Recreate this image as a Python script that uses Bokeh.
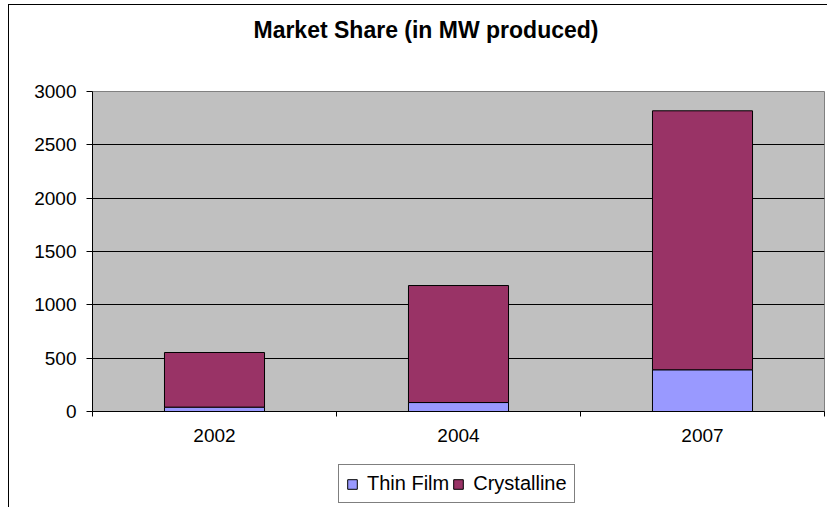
from bokeh.plotting import figure
from bokeh.layouts import column
from bokeh.models import (Range1d, LinearAxis, FixedTicker, Legend,
                          LegendItem, Grid, ColumnDataSource, Div)
from bokeh.embed import file_html
from bokeh.resources import INLINE

# ---- data ----
years = ["2002", "2004", "2007"]
series = ["Thin Film", "Crystalline"]
thin_film = [41, 84, 391]
crystalline = [512, 1097, 2428]
colors = ["#9999FF", "#993366"]
y_ticks = [0, 500, 1000, 1500, 2000, 2500, 3000]
title_text = "Market Share (in MW produced)"

FONT = "Liberation Sans"
W = 818

# each year gets one slot of width 1 on the x scale
slot_centres = [i + 0.5 for i in range(len(years))]
slot_edges = list(range(len(years) + 1))

data = {"x": slot_centres}
for name, vals in zip(series, [thin_film, crystalline]):
    data[name] = vals
src = ColumnDataSource(data)

# ---- title ----
title_div = Div(text=title_text, width=W, height=74, margin=0,
                stylesheets=[":host{font-family:'Liberation Sans';font-size:23px;"
                             "font-weight:bold;color:black;}"
                             " div{box-sizing:border-box;width:100%;text-align:center;"
                             "padding-left:16px;padding-top:9px;}"])

# ---- main chart ----
p = figure(x_range=Range1d(0, len(years)),
           y_range=Range1d(y_ticks[0], y_ticks[-1]),
           width=W, height=381, output_backend="svg", toolbar_location=None,
           x_axis_location=None, y_axis_location=None, title=None,
           min_border_left=83, min_border_top=12, min_border_right=3,
           min_border_bottom=49)
p.background_fill_color = "#C0C0C0"
p.border_fill_color = "white"
p.outline_line_color = "#808080"
p.outline_line_width = 1
p.grid.visible = False

yax = LinearAxis(ticker=FixedTicker(ticks=y_ticks), major_tick_out=6, major_tick_in=0,
                 minor_tick_out=0, minor_tick_in=0, major_label_standoff=10,
                 axis_line_color="black", major_tick_line_color="black",
                 major_label_text_font=FONT, major_label_text_font_size="19px",
                 major_label_text_color="black")
p.add_layout(yax, "left")
p.add_layout(Grid(dimension=1, ticker=FixedTicker(ticks=y_ticks[1:-1]),
                  grid_line_color="black", grid_line_width=1))

xax = LinearAxis(ticker=FixedTicker(ticks=slot_centres, minor_ticks=slot_edges),
                 major_label_overrides={c: y for c, y in zip(slot_centres, years)},
                 major_tick_out=0, major_tick_in=0, minor_tick_out=5, minor_tick_in=0,
                 major_label_standoff=12, axis_line_color="black",
                 minor_tick_line_color="black",
                 major_label_text_font=FONT, major_label_text_font_size="19px",
                 major_label_text_color="black")
p.add_layout(xax, "below")

p.vbar_stack(series, x="x", width=0.41, source=src,
             fill_color=colors, line_color="black", line_width=1)

# ---- legend strip (its renderers are hidden; only the legend is drawn) ----
pl = figure(x_range=p.x_range, y_range=p.y_range,
            width=W, height=47, output_backend="svg", toolbar_location=None,
            x_axis_location=None, y_axis_location=None, title=None,
            min_border_left=83, min_border_top=0, min_border_right=3,
            min_border_bottom=0)
pl.background_fill_color = "white"
pl.border_fill_color = "white"
pl.outline_line_color = None
pl.grid.visible = False
rs = pl.vbar_stack(series, x="x", width=0.41, source=src,
                   fill_color=colors, line_color="black", line_width=1)
for r in rs:
    r.visible = False
legend = Legend(items=[LegendItem(label=s, renderers=[r]) for s, r in zip(series, rs)],
                orientation="horizontal", location=(246, 4),
                glyph_width=12, glyph_height=12, label_standoff=9, spacing=3,
                padding=7, margin=0, border_line_color="black", border_line_width=1,
                label_text_font=FONT, label_text_font_size="20px", label_height=20,
                label_text_color="black", inactive_fill_alpha=0,
                background_fill_color="white", background_fill_alpha=1)
pl.add_layout(legend, "center")

layout = column(title_div, p, pl, spacing=0)
layout.styles = {"margin-left": "8px", "margin-top": "4px",
                 "border-left": "1px solid black", "border-top": "1px solid black"}

open("out.html", "w").write(file_html(layout, INLINE))
